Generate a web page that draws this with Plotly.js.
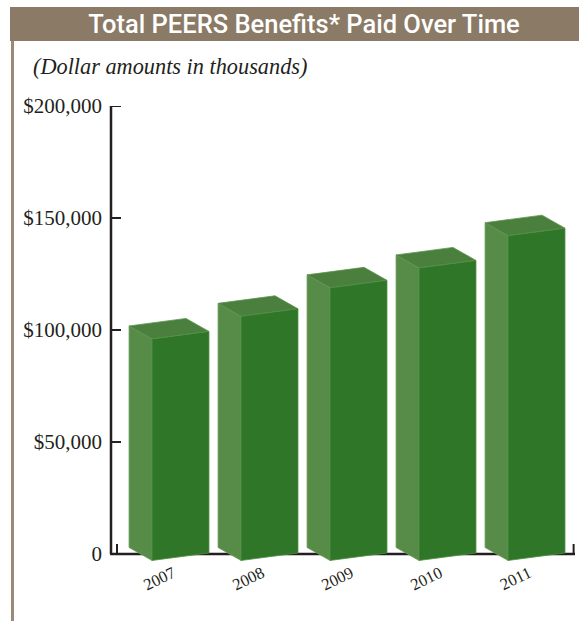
<!DOCTYPE html>
<html>
<head>
<meta charset="utf-8">
<script src="https://cdn.plot.ly/plotly-3.0.1.min.js"></script>
<style>
  html, body { margin: 0; padding: 0; background: #ffffff; }
  #chart { width: 579px; height: 621px; }
</style>
</head>
<body>
<div id="chart"></div>
<script>
// ---- Data ----
const years = ['2007', '2008', '2009', '2010', '2011'];
const benefits = [98900, 109000, 121700, 130600, 145000];
const yTickVals = [0, 50000, 100000, 150000, 200000];
const yTickText = ['0', '$50,000', '$100,000', '$150,000', '$200,000'];

// ---- Style constants for the pseudo-3D boxes ----
const halfW = 0.32;     // half width of front face (x units)
const depthX = -0.258;  // back-face offset in x units
const depthY = 5800;    // back-face offset in y units
const slant = 3350;     // rise of front face across its width
const base = -1200;     // vertical centre of the front face bottom

const W = 579, H = 621;
const mL = 111, mR = 4, mT = 106, mB = 58;
const plotW = W - mL - mR, plotH = H - mT - mB;
const px = p => (p - mL) / plotW;          // pixel x -> paper x
const py = p => (H - mB - p) / plotH;      // pixel y -> paper y

const sideFace = {x: [], y: []}, topFace = {x: [], y: []}, frontFace = {x: [], y: []};
function pushPoly(o, pts) {
  pts.forEach(p => { o.x.push(p[0]); o.y.push(p[1]); });
  o.x.push(pts[0][0]); o.y.push(pts[0][1]);
  o.x.push(null); o.y.push(null);
}
benefits.forEach((v, i) => {
  const xl = i - halfW, xr = i + halfW;
  const bl = base - slant / 2, br = base + slant / 2;
  const FLb = [xl, bl], FRb = [xr, br], FRt = [xr, br + v], FLt = [xl, bl + v];
  const BLt = [xl + depthX, bl + v + depthY], BRt = [xr + depthX, br + v + depthY];
  const BLb = [xl + depthX, bl + depthY];
  pushPoly(sideFace, [FLb, FLt, BLt, BLb]);
  pushPoly(topFace, [FLt, FRt, BRt, BLt]);
  pushPoly(frontFace, [FLb, FRb, FRt, FLt]);
});

function face(o, color, edge) {
  return {
    type: 'scatter', mode: 'lines', x: o.x, y: o.y,
    fill: 'toself', fillcolor: color,
    line: {color: edge, width: 0.8},
    hoverinfo: 'skip', showlegend: false, connectgaps: false
  };
}

const traces = [
  face(sideFace, '#578b48', '#6a9c5a'),
  face(topFace, '#4b7f3d', '#5f9350'),
  face(frontFace, '#2f7628', '#4f8f45')
];

const axisColor = '#231f20';
const shapes = [
  {type: 'rect', xref: 'paper', yref: 'paper', x0: px(10), x1: px(580), y0: py(41), y1: py(7),
   fillcolor: '#8a7a66', line: {width: 0}, layer: 'below'},
  {type: 'line', xref: 'paper', yref: 'paper', x0: px(12.5), x1: px(12.5), y0: py(41), y1: py(622),
   line: {color: '#9a8a77', width: 3}, layer: 'below'},
  {type: 'line', xref: 'paper', yref: 'y', x0: 0, x1: 0, y0: 0, y1: 200000,
   line: {color: axisColor, width: 2.5}, layer: 'below'},
  {type: 'line', xref: 'paper', yref: 'y', x0: -0.002, x1: 1, y0: 0, y1: 0,
   line: {color: axisColor, width: 2.5}, layer: 'below'},
  {type: 'line', xref: 'x', yref: 'y', x0: -0.7135, x1: -0.7135, y0: 0, y1: 4500,
   line: {color: axisColor, width: 2}, layer: 'below'},
  {type: 'line', xref: 'paper', yref: 'y', x0: 0.997, x1: 0.997, y0: 0, y1: 4500,
   line: {color: axisColor, width: 2}, layer: 'below'}
];
// inward tick marks on the value axis
yTickVals.slice(1).forEach(t => {
  shapes.push({type: 'line', xref: 'paper', yref: 'y', x0: 0, x1: px(121), y0: t, y1: t,
               line: {color: axisColor, width: 2}, layer: 'below'});
});

const layout = {
  width: W, height: H,
  margin: {l: mL, r: mR, t: mT, b: mB, pad: 0},
  paper_bgcolor: '#ffffff', plot_bgcolor: 'rgba(0,0,0,0)',
  showlegend: false,
  title: {
    text: 'Total PEERS Benefits* Paid Over Time',
    font: {family: 'Roboto', size: 25.5, color: '#ffffff', weight: 500},
    x: 304 / W, xref: 'container', xanchor: 'center',
    y: 1 - 24 / H, yref: 'container', yanchor: 'middle'
  },
  xaxis: {
    range: [-0.7809, 4.4326],
    tickvals: [0, 1, 2, 3, 4], ticktext: years.map(y => y + '\u00a0\u00a0'),
    tickangle: -26, ticks: '', showgrid: false, zeroline: false, showline: false,
    tickfont: {family: 'Liberation Serif', size: 16.5, color: axisColor},
    ticklabelstandoff: -7,
    automargin: false, fixedrange: true
  },
  yaxis: {
    range: [-4000, 200000],
    tickvals: yTickVals, ticktext: yTickText,
    ticks: '', showgrid: false, zeroline: false, showline: false,
    tickfont: {family: 'Liberation Serif', size: 21, color: axisColor},
    ticklabelstandoff: 8,
    automargin: false, fixedrange: true
  },
  shapes: shapes,
  annotations: [
    {text: '(Dollar amounts in thousands)', showarrow: false,
     xref: 'paper', yref: 'paper', x: px(31), y: py(67), xanchor: 'left', yanchor: 'middle',
     font: {family: 'Liberation Serif', size: 22.3, color: '#231f20', style: 'italic'}}
  ]
};

Plotly.newPlot('chart', traces, layout, {staticPlot: true, displayModeBar: false});
</script>
</body>
</html>
